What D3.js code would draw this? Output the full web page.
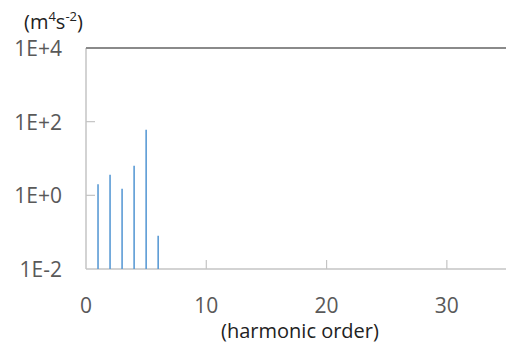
<!DOCTYPE html>
<html>
<head>
<meta charset="utf-8">
<script src="https://cdn.jsdelivr.net/npm/d3@7"></script>
<style>
  html, body { margin: 0; padding: 0; background: #fff; }
  svg { display: block; }
  text { font-family: "Open Sans", "Liberation Sans", sans-serif; }
</style>
</head>
<body>
<svg id="chart" width="506" height="347"></svg>
<script>
// Harmonic spectrum: order and amplitude (m^4 s^-2)
const harmonicOrders = [1, 2, 3, 4, 5, 6];
const amplitudes = [2.0, 3.6, 1.5, 6.4, 60, 0.08];
const xTicks = [0, 10, 20, 30];
const yTicks = [1e-2, 1e0, 1e2, 1e4];
const yTickLabels = ["1E-2", "1E+0", "1E+2", "1E+4"];

const svg = d3.select("#chart");
const plotLeft = 86, plotRight = 507, plotTop = 48, plotBottom = 269;

const x = d3.scaleLinear().domain([0, 35]).range([plotLeft, plotRight]);
const y = d3.scaleLog().domain([1e-2, 1e4]).range([plotBottom, plotTop]);

// plot frame: light axes, darker top border
svg.append("line")
  .attr("x1", plotLeft).attr("x2", plotLeft).attr("y1", plotTop).attr("y2", plotBottom)
  .attr("stroke", "#c4c4c4").attr("stroke-width", 1.5);
svg.append("line")
  .attr("x1", plotLeft).attr("x2", 506).attr("y1", plotBottom).attr("y2", plotBottom)
  .attr("stroke", "#c4c4c4").attr("stroke-width", 1.5);
svg.append("line")
  .attr("x1", plotLeft).attr("x2", 506).attr("y1", plotTop).attr("y2", plotTop)
  .attr("stroke", "#8a8a8a").attr("stroke-width", 2);

// inward tick marks
svg.selectAll(".xt").data(xTicks.filter(d => d > 0)).enter().append("line")
  .attr("x1", d => x(d)).attr("x2", d => x(d))
  .attr("y1", plotBottom).attr("y2", plotBottom - 9)
  .attr("stroke", "#c4c4c4").attr("stroke-width", 1.2);
svg.selectAll(".yt").data(yTicks.slice(1, 3)).enter().append("line")
  .attr("x1", plotLeft).attr("x2", plotLeft + 9)
  .attr("y1", d => y(d)).attr("y2", d => y(d))
  .attr("stroke", "#c4c4c4").attr("stroke-width", 1.2);

// tick labels
svg.selectAll(".xl").data(xTicks).enter().append("text")
  .attr("x", d => x(d)).attr("y", 313)
  .attr("text-anchor", "middle")
  .attr("font-size", 21).attr("fill", "#595959")
  .text(d => d);
svg.selectAll(".yl").data(yTicks).enter().append("text")
  .attr("x", 62).attr("y", d => y(d) + 8)
  .attr("text-anchor", "end")
  .attr("font-size", 21).attr("fill", "#595959")
  .text((d, i) => yTickLabels[i]);

// spectral lines
svg.selectAll(".bar").data(harmonicOrders).enter().append("line")
  .attr("x1", d => x(d)).attr("x2", d => x(d))
  .attr("y1", plotBottom).attr("y2", (d, i) => y(amplitudes[i]))
  .attr("stroke", "#5b9bd5").attr("stroke-width", 1.6);

// axis titles
const unit = svg.append("text").attr("x", 24).attr("y", 29)
  .attr("font-size", 20).attr("fill", "#222");
unit.append("tspan").text("(m");
unit.append("tspan").attr("font-size", 13).attr("dy", -8).text("4");
unit.append("tspan").attr("dy", 8).text("s");
unit.append("tspan").attr("font-size", 13).attr("dy", -8).text("-2");
unit.append("tspan").attr("dy", 8).text(")");

svg.append("text").attr("x", 300).attr("y", 338)
  .attr("text-anchor", "middle")
  .attr("font-size", 20).attr("fill", "#222")
  .text("(harmonic order)");
</script>
</body>
</html>
